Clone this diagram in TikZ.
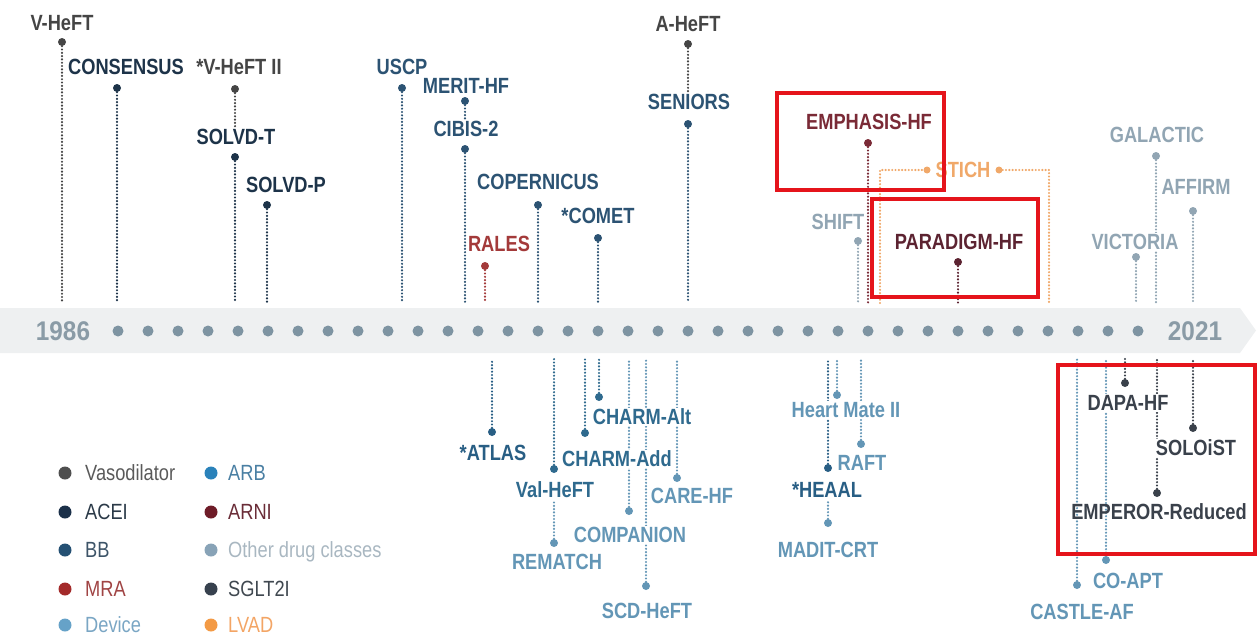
\documentclass[tikz,border=0pt]{standalone}
\usepackage{fontspec}
\newfontfamily\labfont{Liberation Sans}[FakeStretch=0.83]
\newfontfamily\yearfont{Liberation Sans}[FakeStretch=0.9]
\pgfdeclarelayer{back}
\pgfdeclarelayer{lines}
\pgfsetlayers{back,lines,main}
\definecolor{cVaso}{HTML}{454545}
\definecolor{cACEI}{HTML}{1D3349}
\definecolor{cBB}{HTML}{2C5373}
\definecolor{cMRA}{HTML}{A33A3A}
\definecolor{cMRAd}{HTML}{7A2A36}
\definecolor{cARB}{HTML}{2F6A8E}
\definecolor{cARBd}{HTML}{285E84}
\definecolor{cARNI}{HTML}{5C2331}
\definecolor{cOth}{HTML}{91A5B3}
\definecolor{cSG}{HTML}{3A414B}
\definecolor{cDev}{HTML}{6396B6}
\definecolor{cLV}{HTML}{F0A869}
\definecolor{tl}{HTML}{7E94A2}
\definecolor{bandc}{HTML}{EEF0F1}
\definecolor{yearc}{HTML}{8A9BA6}
\definecolor{hl}{HTML}{E5141B}
% legend colours
\definecolor{lVaso}{HTML}{4F4F4F}
\definecolor{lACEI}{HTML}{1B3049}
\definecolor{lBB}{HTML}{245073}
\definecolor{lMRA}{HTML}{A32A2A}
\definecolor{lDev}{HTML}{66A2C8}
\definecolor{lARB}{HTML}{2A82BA}
\definecolor{lARNI}{HTML}{6E1C28}
\definecolor{lOth}{HTML}{88A3B7}
\definecolor{lSG}{HTML}{37414E}
\definecolor{lLV}{HTML}{F39A45}
\definecolor{ltVaso}{HTML}{5A5A5A}
\definecolor{ltACEI}{HTML}{2B3A48}
\definecolor{ltBB}{HTML}{3D5468}
\definecolor{ltMRA}{HTML}{A04444}
\definecolor{ltDev}{HTML}{7AA6C4}
\definecolor{ltARB}{HTML}{4A7FA3}
\definecolor{ltARNI}{HTML}{6A2D38}
\definecolor{ltOth}{HTML}{A9B7C1}
\definecolor{ltSG}{HTML}{404850}
\definecolor{ltLV}{HTML}{F3A565}
\tikzset{
  lab/.style={font=\labfont\bfseries\fontsize{22}{24}\selectfont, text height=15.5pt, text depth=0pt, inner sep=1.5pt},
  wlab/.style={lab, fill=white},
  pt/.style={circle, fill=#1, inner sep=0pt, minimum size=8pt},
  dl/.style={draw=#1, line width=2.4pt, line cap=round, dash pattern=on 0pt off 3.3pt},
  tdot/.style={circle, fill=tl, inner sep=0pt, minimum size=11pt},
  yr/.style={font=\yearfont\bfseries\fontsize{27}{30}\selectfont, text=yearc, inner sep=0pt},
  legdot/.style={circle, fill=#1, inner sep=0pt, minimum size=13pt},
  legtxt/.style={font=\labfont\fontsize{22}{24}\selectfont, anchor=west, text height=15pt, text depth=0pt, inner sep=0pt},
  redbox/.style={draw=hl, line width=4pt}
}
\begin{document}
\begin{tikzpicture}[x=1pt,y=-1pt]
\useasboundingbox (0,0) rectangle (1258,640);
% timeline band
\begin{pgfonlayer}{back}
\fill[bandc] (0,308) -- (1240,308) -- (1256,330.5) -- (1240,353) -- (0,353) -- cycle;
\end{pgfonlayer}
\coordinate (bandT) at (0,303);
\coordinate (bandB) at (0,359);
\foreach \i in {0,...,34} \node[tdot] (t\i) at (118+30*\i,331) {};
\node[yr] (y1986) at (63,331) {1986};
\node[yr] (y2021) at (1195,331) {2021};

% ---------- upper trials ----------
\node[pt=cVaso] (vheftD) at (62,42) {};
\node[wlab, text=cVaso] (vheftL) at (62,23) {V-HeFT};
\node[pt=cACEI] (consD) at (117,88) {};
\node[wlab, text=cACEI] (consL) at (126,67) {CONSENSUS};
\node[pt=cVaso] (vh2D) at (235,89) {};
\node[wlab, text=cVaso] (vh2L) at (239,67) {*V-HeFT II};
\node[pt=cACEI] (soltD) at (235,157) {};
\node[wlab, text=cACEI] (soltL) at (236,137) {SOLVD-T};
\node[pt=cACEI] (solpD) at (267,205) {};
\node[wlab, text=cACEI] (solpL) at (286,185) {SOLVD-P};
\node[pt=cBB] (uscpD) at (402,88) {};
\node[wlab, text=cBB] (uscpL) at (402,67) {USCP};
\node[pt=cBB] (meritD) at (465,101) {};
\node[wlab, text=cBB] (meritL) at (466,86) {MERIT-HF};
\node[pt=cBB] (cibisD) at (465,149) {};
\node[wlab, text=cBB] (cibisL) at (466,129) {CIBIS-2};
\node[pt=cBB] (copD) at (538,205) {};
\node[wlab, text=cBB] (copL) at (538,182) {COPERNICUS};
\node[pt=cBB] (cometD) at (598,238) {};
\node[wlab, text=cBB] (cometL) at (598,216) {*COMET};
\node[pt=cMRA] (ralesD) at (485,266) {};
\node[wlab, text=cMRA] (ralesL) at (499,244) {RALES};
\node[pt=cVaso] (aheftD) at (688,44) {};
\node[wlab, text=cVaso] (aheftL) at (688,24) {A-HeFT};
\node[pt=cBB] (senD) at (688,124) {};
\node[wlab, text=cBB] (senL) at (689,102) {SENIORS};
\node[pt=cMRAd] (empD) at (868,143) {};
\node[wlab, text=cMRAd] (empL) at (869,122) {EMPHASIS-HF};
\node[pt=cOth] (shiftD) at (858,241) {};
\node[wlab, text=cOth] (shiftL) at (838,222) {SHIFT};
\node[pt=cARNI] (parD) at (958,262) {};
\node[wlab, text=cARNI] (parL) at (959,242) {PARADIGM-HF};
\node[pt=cOth] (galD) at (1156,156) {};
\node[wlab, text=cOth] (galL) at (1157,135) {GALACTIC};
\node[pt=cOth] (affD) at (1193,211) {};
\node[wlab, text=cOth] (affL) at (1196,187) {AFFIRM};
\node[pt=cOth] (vicD) at (1136,257) {};
\node[wlab, text=cOth] (vicL) at (1135,242) {VICTORIA};
% STICH (LVAD)
\coordinate (stL) at (880,303);
\coordinate (stR) at (1049,303);
\node[pt=cLV, minimum size=7pt] (st1) at (927,170) {};
\node[pt=cLV, minimum size=7pt] (st2) at (999,170) {};
\node[lab, text=cLV] (stichL) at (963,170) {STICH};

% ---------- lower trials ----------
\node[pt=cARBd] (atlD) at (492,432) {};
\node[wlab, text=cARBd] (atlL) at (493,453) {*ATLAS};
\node[pt=cARB] (valD) at (554,469) {};
\node[wlab, text=cARB] (valL) at (555,490) {Val-HeFT};
\node[pt=cDev] (remD) at (554,543) {};
\node[wlab, text=cDev] (remL) at (557,562) {REMATCH};
\node[pt=cARB] (chaddD) at (585,433) {};
\node[wlab, text=cARB] (chaddL) at (617,459) {CHARM-Add};
\node[pt=cARB] (chaltD) at (599,397) {};
\node[wlab, text=cARB] (chaltL) at (642,417) {CHARM-Alt};
\node[pt=cDev] (compD) at (629,511) {};
\node[wlab, text=cDev] (compL) at (630,535) {COMPANION};
\node[pt=cDev] (scdD) at (646,586) {};
\node[wlab, text=cDev] (scdL) at (647,611) {SCD-HeFT};
\node[pt=cDev] (careD) at (677,478) {};
\node[wlab, text=cDev] (careL) at (692,496) {CARE-HF};
\node[pt=cDev] (hmD) at (837,395) {};
\node[wlab, text=cDev] (hmL) at (846,410) {Heart Mate II};
\node[pt=cARBd] (heaalD) at (828,468) {};
\node[wlab, text=cARBd] (heaalL) at (827,490) {*HEAAL};
\node[pt=cDev] (madD) at (828,523) {};
\node[wlab, text=cDev] (madL) at (828,550) {MADIT-CRT};
\node[pt=cDev] (raftD) at (861,444) {};
\node[wlab, text=cDev] (raftL) at (862,463) {RAFT};
\node[pt=cDev] (castD) at (1077,585) {};
\node[wlab, text=cDev] (castL) at (1082,612) {CASTLE-AF};
\node[pt=cDev] (coaptD) at (1106,560) {};
\node[wlab, text=cDev] (coaptL) at (1128,581) {CO-APT};
\node[pt=cSG] (dapaD) at (1125,383) {};
\node[wlab, text=cSG] (dapaL) at (1128,403) {DAPA-HF};
\node[pt=cSG] (empRD) at (1157,493) {};
\node[lab, text=cSG] (empRL) at (1159,512) {EMPEROR-Reduced};
\node[pt=cSG] (soloD) at (1193,428) {};
\node[wlab, text=cSG] (soloL) at (1196,448) {SOLOiST};

% ---------- connectors ----------
\begin{pgfonlayer}{lines}
\draw[dl=cVaso] (vheftD) -- (vheftD |- bandT);
\draw[dl=cACEI] (consD) -- (consD |- bandT);
\draw[dl=cVaso] (vh2D) -- (vh2D |- soltL.north);
\draw[dl=cACEI] (soltD) -- (soltD |- bandT);
\draw[dl=cACEI] (solpD) -- (solpD |- bandT);
\draw[dl=cBB] (uscpD) -- (uscpD |- bandT);
\draw[dl=cBB] (meritD) -- (meritD |- cibisL.north);
\draw[dl=cBB] (cibisD) -- (cibisD |- bandT);
\draw[dl=cBB] (copD) -- (copD |- bandT);
\draw[dl=cBB] (cometD) -- (cometD |- bandT);
\draw[dl=cMRA] (ralesD) -- (ralesD |- bandT);
\draw[dl=cVaso] (aheftD) -- (aheftD |- senL.north);
\draw[dl=cBB] (senD) -- (senD |- bandT);
\draw[dl=cMRAd] (empD) -- (empD |- bandT);
\draw[dl=cOth] (shiftD) -- (shiftD |- bandT);
\draw[dl=cARNI] (parD) -- (parD |- bandT);
\draw[dl=cOth] (galD) -- (galD |- bandT);
\draw[dl=cOth] (affD) -- (affD |- bandT);
\draw[dl=cOth] (vicD) -- (vicD |- bandT);
\draw[dl=cLV] (stL) |- (st1);
\draw[dl=cLV] (st2) -| (stR);
% lower
\draw[dl=cARBd] (atlD) -- (atlD |- bandB);
\draw[dl=cARB] (valD) -- (valD |- bandB);
\draw[dl=cDev] (remD) -- (remD |- valL.south);
\draw[dl=cARB] (chaddD) -- (chaddD |- bandB);
\draw[dl=cARB] (chaltD) -- (chaltD |- bandB);
\draw[dl=cDev] (compD) -- (compD |- bandB);
\draw[dl=cDev] (scdD) -- (scdD |- bandB);
\draw[dl=cDev] (careD) -- (careD |- bandB);
\draw[dl=cDev] (hmD) -- (hmD |- bandB);
\draw[dl=cARBd] (heaalD) -- (heaalD |- bandB);
\draw[dl=cDev] (madD) -- (madD |- heaalL.south);
\draw[dl=cDev] (raftD) -- (raftD |- bandB);
\draw[dl=cDev] (castD) -- (castD |- bandB);
\draw[dl=cDev] (coaptD) -- (coaptD |- bandB);
\draw[dl=cSG] (dapaD) -- (dapaD |- bandB);
\draw[dl=cSG] (empRD) -- (empRD |- bandB);
\draw[dl=cSG] (soloD) -- (soloD |- bandB);
\end{pgfonlayer}

% ---------- legend ----------
\node[legdot=lVaso] (lg1) at (65,473) {};
\node[legtxt, text=ltVaso] (lt1) at (85,473) {Vasodilator};
\node[legdot=lACEI] (lg2) at (65,512) {};
\node[legtxt, text=ltACEI] (lt2) at (85,512) {ACEI};
\node[legdot=lBB] (lg3) at (65,550) {};
\node[legtxt, text=ltBB] (lt3) at (85,550) {BB};
\node[legdot=lMRA] (lg4) at (65,589) {};
\node[legtxt, text=ltMRA] (lt4) at (85,589) {MRA};
\node[legdot=lDev] (lg5) at (65,625) {};
\node[legtxt, text=ltDev] (lt5) at (85,625) {Device};
\node[legdot=lARB] (lg6) at (211,473) {};
\node[legtxt, text=ltARB] (lt6) at (228,473) {ARB};
\node[legdot=lARNI] (lg7) at (211,512) {};
\node[legtxt, text=ltARNI] (lt7) at (228,512) {ARNI};
\node[legdot=lOth] (lg8) at (211,550) {};
\node[legtxt, text=ltOth] (lt8) at (228,550) {Other drug classes};
\node[legdot=lSG] (lg9) at (211,589) {};
\node[legtxt, text=ltSG] (lt9) at (228,589) {SGLT2I};
\node[legdot=lLV] (lg10) at (211,625) {};
\node[legtxt, text=ltLV] (lt10) at (228,625) {LVAD};

% ---------- highlight boxes ----------
\draw[redbox] (777,93) rectangle (944,190);
\draw[redbox] (872,199) rectangle (1038,297);
\draw[redbox] (1058,365) rectangle (1255,554);
\end{tikzpicture}
\end{document}
